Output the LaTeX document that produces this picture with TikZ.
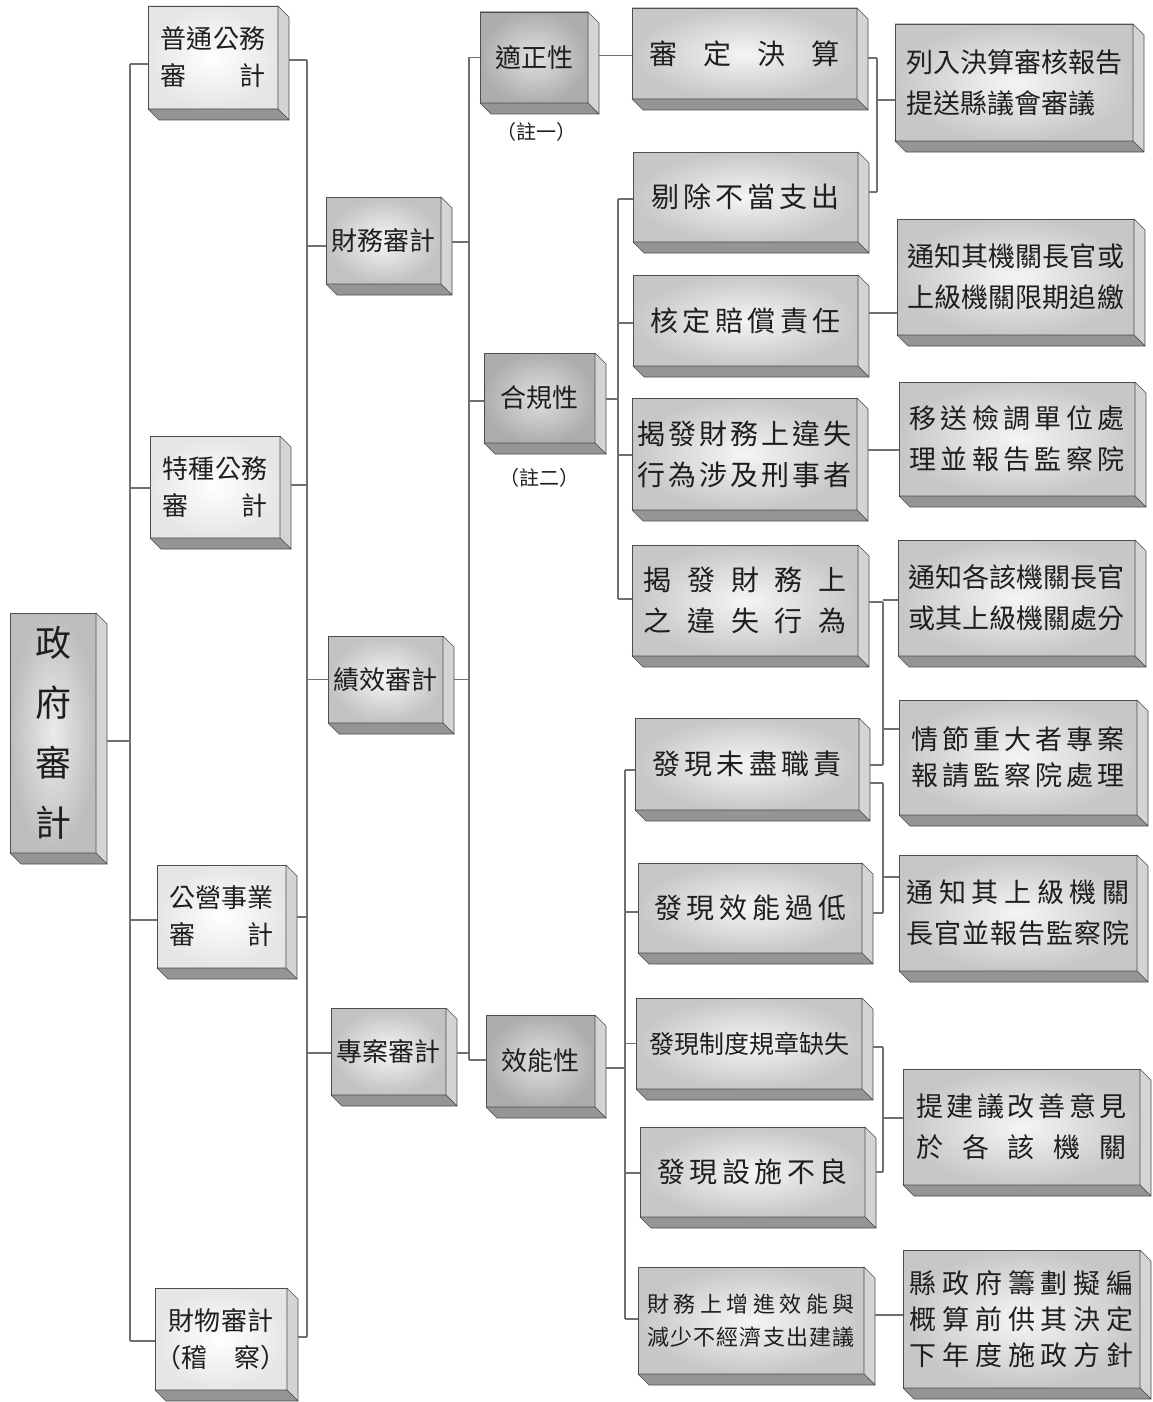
\documentclass[tikz,border=0pt]{standalone}
\usepackage{fontspec}
\setmainfont{Noto Sans CJK TC}
\usetikzlibrary{calc}
\definecolor{edgec}{HTML}{4D4D4D}
\definecolor{sidec}{HTML}{D4D4D4}
\definecolor{botc}{HTML}{959595}
\definecolor{linec}{HTML}{707070}
\definecolor{txtc}{HTML}{1E1E1E}
\makeatletter
\newcommand\spreadline[2]{\makebox[#1]{\def\sp@sep{}\@tfor\sp@ch:=#2\do{\sp@sep\sp@ch\def\sp@sep{\hfill}}}}
\makeatother
\def\bxd{11}
\newcommand\threedfaces[1]{%
  \filldraw[fill=sidec,draw=edgec,line width=0.6pt,line join=round] (#1.north east) -- ++(\bxd,\bxd) -- ($(#1.south east)+(\bxd,\bxd)$) -- (#1.south east) -- cycle;
  \filldraw[fill=botc,draw=edgec,line width=0.6pt,line join=round] (#1.south west) -- (#1.south east) -- ($(#1.south east)+(\bxd,\bxd)$) -- ($(#1.south west)+(\bxd,\bxd)$) -- cycle;}
\newcommand\bx[7]{%
  \node[#2, minimum width={(#5)-(#3)}, minimum height={(#6)-(#4)}] (#1) at ({((#3)+(#5))/2},{((#4)+(#6))/2}) {#7};
  \threedfaces{#1}}
\newcommand\leftcon[3][0]{%
  \coordinate (#2l) at ($(#2.west)+(0,#1)$);
  \draw[conn] (#2l) -- (#2l -| #3);}
\newcommand\rightcon[3][0]{%
  \coordinate (#2r) at ($(#2.east)+(\bxd,#1)$);
  \draw[conn] (#2r) -- (#2r -| #3);}
\tikzset{
  base/.style={draw=edgec, line width=0.7pt, inner sep=0pt, outer sep=0pt, align=center, text=txtc},
  lv0/.style={base, inner color=white!92!black, outer color=white!74!black, font=\fontsize{36pt}{60pt}\selectfont},
  lv1/.style={base, inner color=white, outer color=white!90!black, font=\fontsize{26pt}{37pt}\selectfont},
  lv2/.style={base, inner color=white!96!black, outer color=white!76!black, font=\fontsize{26pt}{30pt}\selectfont},
  lv3/.style={base, inner color=white!88!black, outer color=white!68!black, font=\fontsize{26pt}{30pt}\selectfont},
  lv4/.style={base, inner color=white!96!black, outer color=white!78!black, font=\fontsize{28pt}{41pt}\selectfont},
  lv5/.style={base, inner color=white!96!black, outer color=white!78!black, font=\fontsize{27pt}{41pt}\selectfont},
  note/.style={text=txtc, inner sep=0pt, font=\fontsize{20pt}{24pt}\selectfont},
  conn/.style={draw=linec, line width=1.1pt}
}
\begin{document}
\begin{tikzpicture}[x=1pt,y=-1pt]
\fill[white] (0,0) rectangle (1152,1402);
\useasboundingbox (0,0) rectangle (1152,1402);

% bus positions
\coordinate (bus1) at (130,0);
\coordinate (bus2) at (307,0);
\coordinate (bus3) at (469,0);
\coordinate (bus4) at (618,0);
\coordinate (bus5) at (625,0);
\coordinate (bus6) at (877,0);
\coordinate (bus7) at (883,0);

% level 0
\bx{g0}{lv0}{10}{613}{96}{853}{政\\府\\審\\計}

% level 1
\bx{a1}{lv1}{148}{6}{278}{109}{\spreadline{105pt}{普通公務}\\\spreadline{105pt}{審計}}
\bx{a2}{lv1}{150}{436}{280}{538}{\spreadline{105pt}{特種公務}\\\spreadline{105pt}{審計}}
\bx{a3}{lv1}{157}{865}{286}{968}{\spreadline{105pt}{公營事業}\\\spreadline{105pt}{審計}}
\bx{a4}{lv1}{156}{1288}{286}{1390}{\spreadline{105pt}{財物審計}\\\makebox[132pt]{（稽\hfill 察）}}

% level 2
\bx{b1}{lv2}{326}{197}{441}{284}{財務審計}
\bx{b2}{lv2}{328}{636}{443}{723}{績效審計}
\bx{b3}{lv2}{331}{1008}{446}{1095}{專案審計}

% level 3
\bx{c1}{lv3}{480}{12}{588}{103}{適正性}
\bx{c2}{lv3}{484}{353}{595}{443}{合規性}
\bx{c3}{lv3}{486}{1015}{595}{1107}{效能性}
\node[note] (n1) at (536,132) {（註一）};
\node[note] (n2) at (539,478) {（註二）};

% level 4
\bx{d1}{lv4}{632}{8}{857}{99}{\spreadline{190pt}{審定決算}}
\bx{d2}{lv4}{633}{152}{858}{242}{\spreadline{188pt}{剔除不當支出}}
\bx{d3}{lv4}{633}{275}{858}{366}{\spreadline{190pt}{核定賠償責任}}
\bx{d4}{lv4}{632}{398}{857}{510}{\spreadline{214pt}{揭發財務上違失}\\\spreadline{214pt}{行為涉及刑事者}}
\bx{d5}{lv4}{632}{545}{858}{656}{\spreadline{203pt}{揭發財務上}\\\spreadline{203pt}{之違失行為}}
\bx{d6}{lv4}{635}{718}{859}{810}{\spreadline{189pt}{發現未盡職責}}
\bx{d7}{lv4}{638}{863}{862}{953}{\spreadline{192pt}{發現效能過低}}
\bx{d8}{lv4,font=\fontsize{25pt}{30pt}\selectfont}{636}{998}{862}{1089}{\spreadline{200pt}{發現制度規章缺失}}
\bx{d9}{lv4}{640}{1127}{865}{1217}{\spreadline{191pt}{發現設施不良}}
\bx{d10}{lv4,font=\fontsize{22pt}{33pt}\selectfont}{638}{1267}{864}{1374}{\spreadline{207pt}{財務上增進效能與}\\\spreadline{207pt}{減少不經濟支出建議}}

% level 5
\bx{e1}{lv5}{895}{24}{1133}{141}{\makebox[216pt][l]{列入決算審核報告}\\\makebox[216pt][l]{提送縣議會審議}}
\bx{e2}{lv5}{897}{219}{1134}{335}{\spreadline{217pt}{通知其機關長官或}\\\spreadline{217pt}{上級機關限期追繳}}
\bx{e3}{lv5}{899}{382}{1135}{496}{\spreadline{215pt}{移送檢調單位處}\\\spreadline{215pt}{理並報告監察院}}
\bx{e4}{lv5}{898}{540}{1135}{656}{\spreadline{215pt}{通知各該機關長官}\\\spreadline{215pt}{或其上級機關處分}}
\bx{e5}{lv5,font=\fontsize{27pt}{36pt}\selectfont}{899}{700}{1137}{815}{\spreadline{214pt}{情節重大者專案}\\\spreadline{214pt}{報請監察院處理}}
\bx{e6}{lv5}{899}{855}{1137}{971}{\spreadline{223pt}{通知其上級機關}\\\spreadline{223pt}{長官並報告監察院}}
\bx{e7}{lv5}{903}{1069}{1140}{1185}{\spreadline{210pt}{提建議改善意見}\\\spreadline{210pt}{於各該機關}}
\bx{e8}{lv5,font=\fontsize{27pt}{36pt}\selectfont}{903}{1250}{1140}{1388}{\spreadline{224pt}{縣政府籌劃擬編}\\\spreadline{224pt}{概算前供其決定}\\\spreadline{224pt}{下年度施政方針}}

% ---- connectors ----
% root to level 1
\rightcon[8]{g0}{bus1}
\leftcon[6.5]{a1}{bus1}
\leftcon[1]{a2}{bus1}
\leftcon[3.5]{a3}{bus1}
\leftcon[2]{a4}{bus1}
\draw[conn] (a1l -| bus1) -- (a4l -| bus1);

% level 1 to level 2
\rightcon[2.5]{a1}{bus2}
\rightcon[-2]{a2}{bus2}
\rightcon[0.5]{a3}{bus2}
\rightcon[-2]{a4}{bus2}
\leftcon[5.5]{b1}{bus2}
\leftcon{b2}{bus2}
\leftcon[1.5]{b3}{bus2}
\draw[conn] (a1r -| bus2) -- (a4r -| bus2);

% level 2 to level 3
\rightcon[1.5]{b1}{bus3}
\rightcon{b2}{bus3}
\rightcon[1.5]{b3}{bus3}
\leftcon{c1}{bus3}
\leftcon[3]{c2}{bus3}
\leftcon[-1]{c3}{bus3}
\draw[conn] (c1l -| bus3) -- (c3l -| bus3);

% 適正性
\coordinate (c1r) at ($(c1.east)+(\bxd,-2)$);
\draw[conn] (c1r) -- (c1r -| d1.west);

% 合規性
\rightcon[1]{c2}{bus4}
\leftcon[2]{d2}{bus4}
\leftcon[2.5]{d3}{bus4}
\leftcon[1]{d4}{bus4}
\leftcon[-1.5]{d5}{bus4}
\draw[conn] (d2l -| bus4) -- (d5l -| bus4);

% 效能性
\rightcon[7]{c3}{bus5}
\leftcon[6]{d6}{bus5}
\leftcon[4]{d7}{bus5}
\leftcon{d8}{bus5}
\leftcon[1]{d9}{bus5}
\leftcon[-1.5]{d10}{bus5}
\draw[conn] (d6l -| bus5) -- (d10l -| bus5);

% 審定決算 + 剔除不當支出 -> 列入決算
\rightcon[4.5]{d1}{bus6}
\rightcon[-5]{d2}{bus6}
\leftcon[17.5]{e1}{bus6}
\draw[conn] (d1r -| bus6) -- (d2r -| bus6);

% 核定賠償責任 -> 通知其機關長官
\coordinate (d3r) at ($(d3.east)+(\bxd,-7.5)$);
\draw[conn] (d3r) -- (d3r -| e2.west);

% 揭發刑事 -> 移送檢調
\coordinate (d4r) at ($(d4.east)+(\bxd,-4)$);
\draw[conn] (d4r) -- (d4r -| e3.west);

% 揭發違失 + 發現未盡職責 -> 通知各該, 情節重大
\rightcon[1.5]{d5}{bus7}
\rightcon[1]{d6}{bus7}
\leftcon[2]{e4}{bus7}
\leftcon[-28.5]{e5}{bus7}
\draw[conn] (d5r -| bus7) -- (d6r -| bus7);

% 發現未盡職責 + 發現效能過低 -> 通知其上級機關
\coordinate (d6rb) at ($(d6.east)+(\bxd,19)$);
\draw[conn] (d6rb) -- (d6rb -| bus7);
\rightcon[5]{d7}{bus7}
\leftcon[-36]{e6}{bus7}
\draw[conn] (d6rb -| bus7) -- (d7r -| bus7);

% 發現制度規章缺失 + 發現設施不良 -> 提建議
\rightcon[3.5]{d8}{bus7}
\rightcon{d9}{bus7}
\leftcon[-9]{e7}{bus7}
\draw[conn] (d8r -| bus7) -- (d9r -| bus7);

% 財務上增進 -> 縣政府
\coordinate (d10r) at ($(d10.east)+(\bxd,-5.5)$);
\draw[conn] (d10r) -- (d10r -| e8.west);
\end{tikzpicture}
\end{document}
